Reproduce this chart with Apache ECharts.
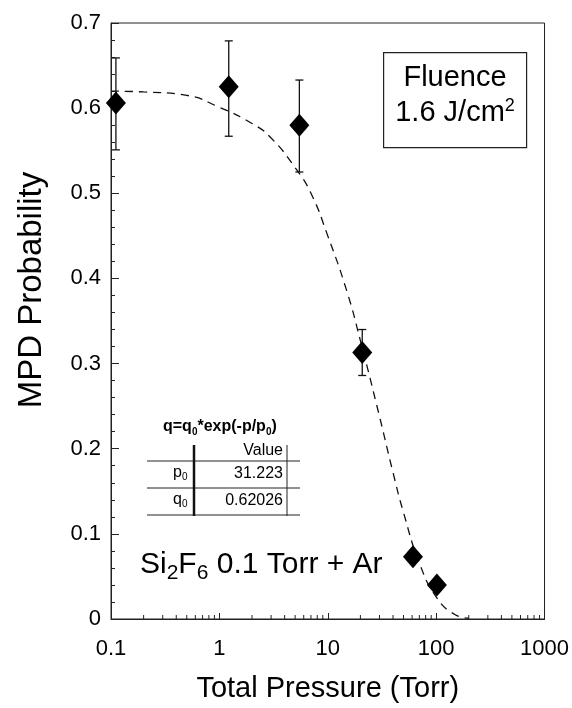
<!DOCTYPE html>
<html>
<head>
<meta charset="utf-8">
<script src="https://cdn.jsdelivr.net/npm/echarts@6/dist/echarts.min.js"></script>
<style>
  html, body { margin: 0; padding: 0; background: #fff; }
  #main { width: 572px; height: 708px; }
</style>
</head>
<body>
<div id="main"></div>
<script>
// measured points (pressure in Torr, MPD probability)
const pressure = [0.111, 1.22, 5.47, 20.8, 61.1, 101.6]
const probability = [0.606, 0.625, 0.580, 0.313, 0.073, 0.040]
const errLow = [0.551, 0.567, 0.525, 0.286, null, null]
const errHigh = [0.659, 0.679, 0.633, 0.340, null, null]

// dashed fit curve
const fitX = [0.1, 0.2, 0.5, 1, 2, 3, 5, 7, 10, 15, 20, 30, 40, 50, 70, 100, 150, 200]
const fitY = [0.620, 0.619, 0.615, 0.601, 0.582, 0.565, 0.530, 0.500, 0.450, 0.385, 0.327, 0.238, 0.172, 0.125, 0.066, 0.026, 0.005, 0.001]

const xMinorTicks = []
for (let d = 0.1; d < 1000; d *= 10) {
  for (let k = 2; k <= 9; k++) xMinorTicks.push(+(d * k).toPrecision(3))
}

const font = 'Liberation Sans, Arial, sans-serif'
const chart = echarts.init(document.getElementById('main'))

const option = {
  animation: false,
  backgroundColor: '#fff',
  grid: {
    left: 111, right: 26, top: 23, bottom: 88,
    show: true, borderColor: '#222', borderWidth: 1
  },
  xAxis: {
    type: 'log', logBase: 10, min: 0.1, max: 1000,
    name: 'Total Pressure (Torr)', nameLocation: 'middle', nameGap: 55,
    nameTextStyle: { fontFamily: font, fontSize: 29, color: '#000' },
    axisLine: { lineStyle: { color: '#222' } },
    axisTick: { inside: true, length: 6, lineStyle: { color: '#222' } },
    minorTick: { show: false },
    splitLine: { show: false },
    axisLabel: {
      fontFamily: font, fontSize: 22, color: '#000', margin: 19,
      formatter: v => String(+v.toPrecision(3))
    }
  },
  yAxis: {
    type: 'value', min: 0, max: 0.7, interval: 0.1,
    axisLine: { lineStyle: { color: '#222' } },
    axisTick: { inside: true, length: 8, lineStyle: { color: '#222' } },
    minorTick: { show: true, splitNumber: 5, length: 4, lineStyle: { color: '#222' } },
    splitLine: { show: false },
    axisLabel: {
      fontFamily: font, fontSize: 22, color: '#000', margin: 10,
      formatter: v => (v === 0 ? '0' : v.toFixed(1))
    }
  },
  series: [
    {
      // minor log ticks on the x axis
      type: 'custom',
      silent: true,
      data: xMinorTicks.map(v => [v]),
      renderItem: (params, api) => {
        const p = api.coord([api.value(0), 0])
        return {
          type: 'line',
          shape: { x1: p[0], y1: p[1], x2: p[0], y2: p[1] - 4 },
          style: { stroke: '#222', lineWidth: 1 }
        }
      }
    },
    {
      type: 'line',
      data: fitX.map((x, i) => [x, fitY[i]]),
      showSymbol: false,
      smooth: true,
      lineStyle: { color: '#111', width: 1.3, type: [8, 6] },
      z: 2
    },
    {
      type: 'custom',
      data: pressure.map((x, i) => [x, errLow[i], errHigh[i]]).filter(d => d[1] !== null),
      renderItem: (params, api) => {
        const lo = api.coord([api.value(0), api.value(1)])
        const hi = api.coord([api.value(0), api.value(2)])
        const w = 4
        return {
          type: 'group',
          children: [
            { type: 'line', shape: { x1: lo[0], y1: lo[1], x2: hi[0], y2: hi[1] }, style: { stroke: '#111', lineWidth: 1.3 } },
            { type: 'line', shape: { x1: lo[0] - w, y1: lo[1], x2: lo[0] + w, y2: lo[1] }, style: { stroke: '#111', lineWidth: 1.3 } },
            { type: 'line', shape: { x1: hi[0] - w, y1: hi[1], x2: hi[0] + w, y2: hi[1] }, style: { stroke: '#111', lineWidth: 1.3 } }
          ]
        }
      },
      z: 3
    },
    {
      type: 'scatter',
      data: pressure.map((x, i) => [x, probability[i]]),
      symbol: 'diamond',
      symbolSize: [20, 23],
      itemStyle: { color: '#000', opacity: 1 },
      z: 4
    }
  ],
  graphic: [
    // y axis title (sits a little above the axis middle in the original)
    {
      type: 'text', x: 32, y: 290, rotation: Math.PI / 2,
      style: { text: 'MPD Probability', font: '33px ' + font, fill: '#000', align: 'center', verticalAlign: 'middle' }
    },
    // Fluence box
    {
      type: 'rect', left: 383, top: 52,
      shape: { width: 143, height: 95 },
      style: { fill: '#fff', stroke: '#222', lineWidth: 1.2 }
    },
    {
      type: 'text', x: 455, y: 78,
      style: { text: 'Fluence', font: '29px ' + font, fill: '#000', align: 'center', verticalAlign: 'middle' }
    },
    {
      type: 'text', x: 455, y: 113,
      style: {
        text: '{a|1.6 J/cm}{s|2}',
        align: 'center', verticalAlign: 'middle',
        rich: {
          a: { font: '29px ' + font, fill: '#000' },
          s: { font: '18px ' + font, fill: '#000', padding: [0, 0, 14, 0] }
        }
      }
    },
    // fit parameter table
    {
      type: 'text', left: 163, top: 419,
      style: {
        text: '{b|q=q}{bs|0}{b|*exp(-p/p}{bs|0}{b|)}',
        rich: {
          b: { font: 'bold 16px ' + font, fill: '#000' },
          bs: { font: 'bold 10px ' + font, fill: '#000', padding: [10, 0, 0, 0] }
        }
      }
    },
    { type: 'line', shape: { x1: 147, y1: 461, x2: 300, y2: 461 }, style: { stroke: '#222', lineWidth: 1 } },
    { type: 'line', shape: { x1: 147, y1: 488, x2: 300, y2: 488 }, style: { stroke: '#222', lineWidth: 1 } },
    { type: 'line', shape: { x1: 147, y1: 515, x2: 300, y2: 515 }, style: { stroke: '#222', lineWidth: 1 } },
    { type: 'line', shape: { x1: 194, y1: 445, x2: 194, y2: 516 }, style: { stroke: '#111', lineWidth: 2.5 } },
    { type: 'line', shape: { x1: 287, y1: 445, x2: 287, y2: 516 }, style: { stroke: '#222', lineWidth: 1 } },
    {
      type: 'text', right: 572 - 283, top: 443,
      style: { text: 'Value', font: '16px ' + font, fill: '#000', align: 'right' }
    },
    {
      type: 'text', left: 173, top: 465,
      style: {
        text: '{a|p}{s|0}',
        rich: { a: { font: '16px ' + font, fill: '#000' }, s: { font: '10px ' + font, fill: '#000', padding: [9, 0, 0, 0] } }
      }
    },
    {
      type: 'text', right: 572 - 283, top: 466,
      style: { text: '31.223', font: '16px ' + font, fill: '#000', align: 'right' }
    },
    {
      type: 'text', left: 173, top: 492,
      style: {
        text: '{a|q}{s|0}',
        rich: { a: { font: '16px ' + font, fill: '#000' }, s: { font: '10px ' + font, fill: '#000', padding: [9, 0, 0, 0] } }
      }
    },
    {
      type: 'text', right: 572 - 283, top: 493,
      style: { text: '0.62026', font: '16px ' + font, fill: '#000', align: 'right' }
    },
    // sample label
    {
      type: 'text', left: 140, top: 550,
      style: {
        text: '{a|Si}{s|2}{a|F}{s|6}{a| 0.1 Torr + Ar}',
        rich: {
          a: { font: '30px ' + font, fill: '#000' },
          s: { font: '21px ' + font, fill: '#000', padding: [17, 0, 0, 0] }
        }
      }
    }
  ]
}

chart.setOption(option)
</script>
</body>
</html>
